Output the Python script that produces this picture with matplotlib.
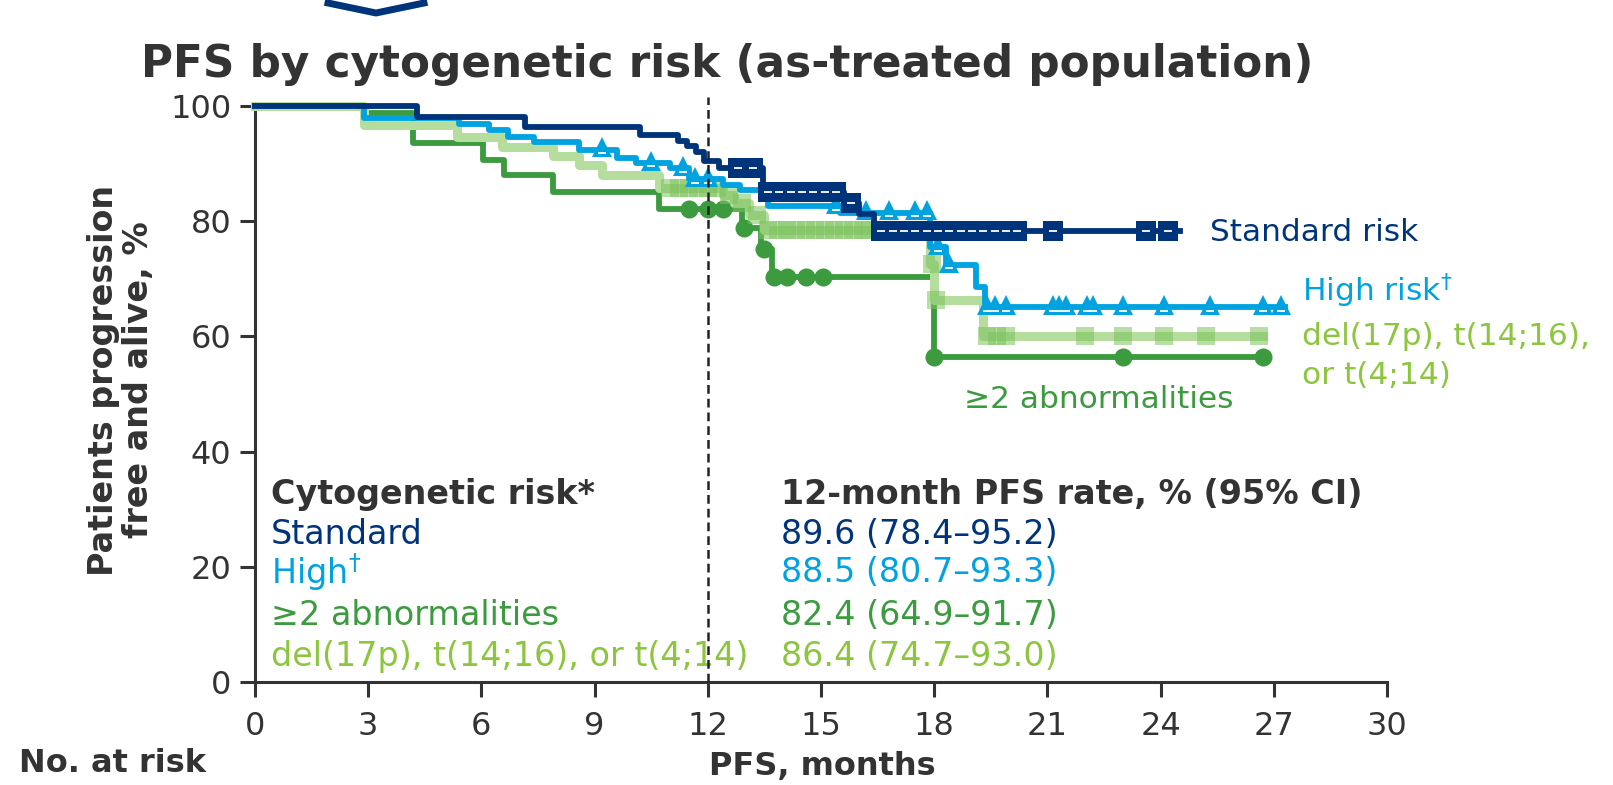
import numpy as np
import matplotlib.pyplot as plt
from matplotlib.lines import Line2D

# Kaplan-Meier steps: month of drop, % after the drop
std_t = [0, 4.3, 7.15, 10.2, 11.2, 11.45, 11.7, 11.9, 12.3, 13.45, 15.6, 16.0, 16.4, 24.5]
std_s = [100, 98.1, 96.4, 95.0, 94.0, 93.0, 92.0, 90.5, 89.3, 85.0, 83.2, 81.3, 78.3, 78.3]
std_cens = [12.8, 13.2, 13.6, 13.9, 14.2, 14.5, 14.8, 15.1, 15.4, 15.8, 16.6, 16.9, 17.2,
            17.5, 17.8, 18.1, 18.4, 18.7, 19.0, 19.3, 19.6, 19.9, 20.2, 21.15, 23.6, 24.2]

hi_t = [0, 2.9, 5.4, 6.2, 6.7, 7.4, 8.6, 9.6, 10.1, 11.0, 11.5, 12.4, 12.85, 13.6, 15.5,
        17.9, 18.3, 19.1, 19.35, 27.3]
hi_s = [100, 97.9, 96.9, 95.8, 94.6, 93.8, 92.4, 91.0, 90.1, 89.2, 87.3, 86.3, 85.4, 82.6,
        81.5, 75.5, 72.4, 68.6, 65.1, 65.1]
hi_cens = [9.2, 10.5, 11.35, 11.65, 12.0, 15.4, 16.2, 16.8, 17.5, 17.8, 18.1, 18.4, 19.4,
           19.6, 19.9, 21.15, 21.3, 21.5, 22.05, 22.2, 23.0, 24.1, 25.3, 26.7, 27.2]

ab_t = [0, 2.9, 4.2, 6.05, 6.6, 7.9, 10.7, 12.9, 13.4, 13.7, 18.0, 26.7]
ab_s = [100, 98.8, 93.6, 90.6, 88.0, 85.0, 82.1, 78.8, 75.2, 70.4, 56.4, 56.4]
ab_cens = [11.5, 12.0, 12.4, 12.95, 13.5, 13.75, 14.1, 14.6, 15.05, 18.0, 23.0, 26.7]

del_t = [0, 2.9, 5.35, 6.55, 7.9, 8.6, 9.2, 10.7, 12.4, 12.7, 13.1, 13.5, 17.9, 18.0, 19.3, 26.7]
del_s = [100, 96.7, 94.6, 92.9, 91.3, 89.8, 88.0, 85.8, 84.5, 83.2, 81.0, 78.5, 72.5, 66.3, 60.0, 60.0]
del_cens = [11.0, 11.25, 11.5, 11.75, 12.0, 12.25, 12.55, 12.9, 13.3, 13.6, 13.85, 14.1, 14.35,
            14.6, 14.85, 15.1, 15.35, 15.6, 15.85, 16.1, 16.3, 17.95, 18.05, 19.4, 19.65, 19.9,
            22.0, 23.0, 24.1, 25.2, 26.6]

table_groups = ['Standard', r'$\mathregular{High}^{\dagger}$', '≥2 abnormalities',
                'del(17p), t(14;16), or t(4;14)']
table_rates = ['89.6 (78.4–95.2)', '88.5 (80.7–93.3)', '82.4 (64.9–91.7)', '86.4 (74.7–93.0)']

NAVY = '#00347a'
CYAN = '#00a3e0'
DGREEN = '#3c9b3f'
LGREEN_LINE = '#b5dd9e'
LGREEN_MARK = '#7cc35c'
LGREEN_TXT = '#8cc63f'
GREY = '#333333'

plt.rcParams['font.family'] = ['DejaVu Sans']
plt.rcParams['mathtext.fontset'] = 'dejavusans'


def censor_y(t, s, c):
    idx = np.searchsorted(t, c, side='right') - 1
    return np.asarray(s)[idx]


fig = plt.figure(figsize=(16.13, 7.85), dpi=100)
ax = fig.add_axes([0.158, 0.131, 0.702, 0.734])

# >=2 abnormalities
ax.step(ab_t, ab_s, where='post', color=DGREEN, lw=4.2, zorder=2, clip_on=False)
ax.plot(ab_cens, censor_y(ab_t, ab_s, ab_cens), 'o', color=DGREEN, ms=13, mew=0,
        zorder=2, clip_on=False)

# del(17p) ...
ax.step(del_t, del_s, where='post', color=LGREEN_LINE, lw=6.5, zorder=3, clip_on=False)
ax.plot(del_cens, censor_y(del_t, del_s, del_cens), 's', color=LGREEN_MARK, alpha=0.55,
        ms=13.5, mew=0, zorder=3, clip_on=False)

# high risk
ax.step(hi_t, hi_s, where='post', color=CYAN, lw=4.2, zorder=4, clip_on=False)
hy = censor_y(hi_t, hi_s, hi_cens)
ax.plot(hi_cens, hy + 0.4, '^', color=CYAN, ms=14, mew=0, zorder=4, clip_on=False)
ax.plot(hi_cens, hy - 0.6, '_', color='white', ms=5.5, mew=1.3, zorder=4, clip_on=False)

# standard risk
ax.step(std_t, std_s, where='post', color=NAVY, lw=4.2, zorder=5, clip_on=False)
sy = censor_y(std_t, std_s, std_cens)
ax.plot(std_cens, sy, 's', color=NAVY, ms=14, mew=0, zorder=5, clip_on=False)
ax.plot(std_cens, sy, '_', color='white', ms=5.5, mew=1.3, zorder=5, clip_on=False)

# 12-month reference line
ax.plot([12, 12], [0, 101.5], color='#222222', lw=1.8, ls=(0, (3.5, 2)), zorder=6, clip_on=False)

ax.set_xlim(0, 30)
ax.set_ylim(0, 100)
ax.set_xticks(range(0, 31, 3))
ax.set_yticks(range(0, 101, 20))
for side in ['top', 'right']:
    ax.spines[side].set_visible(False)
for side in ['left', 'bottom']:
    ax.spines[side].set_color(GREY)
    ax.spines[side].set_linewidth(2.2)
ax.tick_params(axis='both', colors=GREY, labelsize=23, width=2.2, length=11)
ax.tick_params(axis='x', pad=10)
ax.tick_params(axis='y', pad=6)

# curve labels
ax.text(25.3, 78.0, 'Standard risk', color=NAVY, fontsize=22.5, va='center')
ax.text(27.75, 68.0, r'$\mathregular{High\ risk}^{\dagger}$', color=CYAN, fontsize=22.5,
        va='center')
ax.text(27.75, 56.6, 'del(17p), t(14;16),\nor t(4;14)', color=LGREEN_TXT, fontsize=22.5,
        va='center', linespacing=1.4)
ax.text(18.8, 49.1, '≥2 abnormalities', color=DGREEN, fontsize=22.5, va='center')

# table
row_y = [25.6, 19.1, 11.6, 4.5]
row_col = [NAVY, CYAN, DGREEN, LGREEN_TXT]
ax.text(0.42, 32.6, 'Cytogenetic risk*', color=GREY, fontsize=24, fontweight='bold', va='center')
ax.text(13.95, 32.6, '12-month PFS rate, % (95% CI)', color=GREY, fontsize=24,
        fontweight='bold', va='center')
for g, r, yy, c in zip(table_groups, table_rates, row_y, row_col):
    ax.text(0.42, yy, g, color=c, fontsize=24, va='center')
    ax.text(13.95, yy, r, color=c, fontsize=24, va='center')

# titles and axis labels
fig.text(0.451, 0.918, 'PFS by cytogenetic risk (as-treated population)', color=GREY,
         fontsize=31.5, fontweight='bold', ha='center', va='center')
fig.text(0.075, 0.516, 'Patients progression\nfree and alive, %', color=GREY, fontsize=24,
         fontweight='bold', rotation=90, ha='center', va='center', multialignment='center',
         linespacing=1.1)
fig.text(0.51, 0.024, 'PFS, months', color=GREY, fontsize=23, fontweight='bold',
         ha='center', va='center')
fig.text(0.012, 0.028, 'No. at risk', color=GREY, fontsize=23, fontweight='bold',
         ha='left', va='center')

# chevron at top edge
W, H = 1613, 785
fig.add_artist(Line2D([328 / W, 376 / W, 424 / W], [1 - 3 / H, 1 - 13 / H, 1 - 3 / H],
                      color=NAVY, lw=5, transform=fig.transFigure))

fig.savefig('out.png', dpi=100)
